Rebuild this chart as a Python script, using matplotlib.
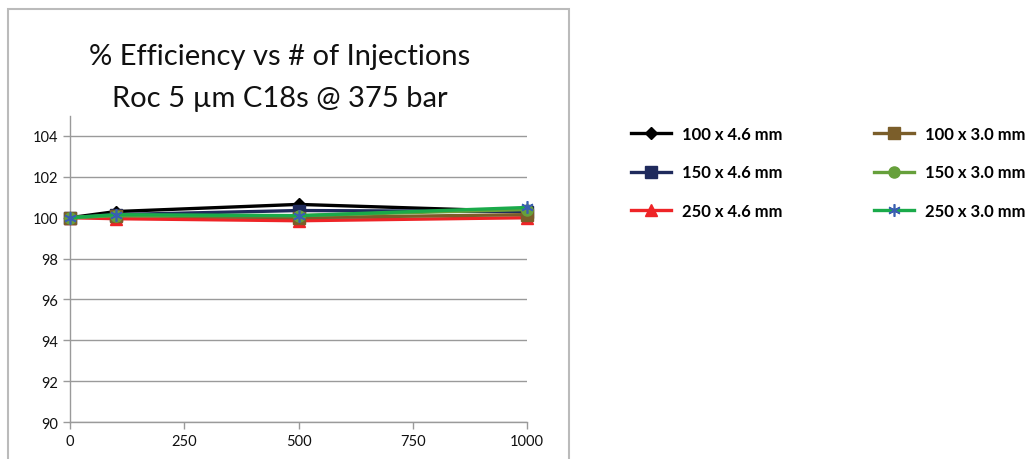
import matplotlib
matplotlib.use('Agg')
import matplotlib.pyplot as plt
import matplotlib.patches as patches

# Data
injections = [0, 100, 500, 1000]
series_names = ['100 x 4.6 mm', '150 x 4.6 mm', '250 x 4.6 mm',
                '100 x 3.0 mm', '150 x 3.0 mm', '250 x 3.0 mm']
eff_100_46 = [100.0, 100.3, 100.65, 100.3]
eff_150_46 = [100.0, 100.15, 100.35, 100.3]
eff_250_46 = [100.0, 99.95, 99.85, 100.0]
eff_100_30 = [100.0, 100.1, 100.0, 100.15]
eff_150_30 = [100.0, 100.1, 100.1, 100.4]
eff_250_30 = [100.0, 100.15, 100.1, 100.5]
y_ticks = [90, 92, 94, 96, 98, 100, 102, 104]
x_ticks = [0, 250, 500, 750, 1000]

# Styles per series: line colour, marker, marker colour, marker size
styles = [
    ('#000000', 'D', '#000000', 6),
    ('#1F2A5C', 's', '#1F2A5C', 8),
    ('#EE2427', '^', '#EE2427', 8),
    ('#7B5E2A', 's', '#7B5E2A', 8),
    ('#66A03B', 'o', '#66A03B', 8),
    ('#1AAA4A', (6, 2, 0), '#3A5FB0', 9),
]
values = [eff_100_46, eff_150_46, eff_250_46, eff_100_30, eff_150_30, eff_250_30]

fig = plt.figure(figsize=(10.27, 4.6), dpi=100)
ax = fig.add_axes([0.0682, 0.0804, 0.445, 0.6663])

grid_col = '#9A9A9A'
for (col, mk, mcol, ms), vals, name in zip(styles, values, series_names):
    ax.plot(injections, vals, color=col, lw=2.4, marker=mk, ms=ms,
            markerfacecolor=mcol, markeredgecolor=mcol,
            mew=1.2 if isinstance(mk, tuple) else 1,
            label=name, clip_on=False, zorder=3)

ax.set_xlim(0, 1000)
ax.set_ylim(90, 105)
ax.set_yticks(y_ticks)
ax.set_xticks(x_ticks)
ax.yaxis.grid(True, color=grid_col, lw=1)
ax.set_axisbelow(True)
for s in ['top', 'right']:
    ax.spines[s].set_visible(False)
for s in ['left', 'bottom']:
    ax.spines[s].set_color(grid_col)
    ax.spines[s].set_linewidth(1)
ax.tick_params(axis='both', direction='out', color=grid_col, length=5, width=1,
               labelsize=10.5, labelcolor='#111111')
for lbl in ax.get_xticklabels() + ax.get_yticklabels():
    lbl.set_family('Lato')

# Title
fig.text(0.272, 0.877, '% Efficiency vs # of Injections', ha='center', va='center',
         fontsize=21, family='Lato', color='#111111')
fig.text(0.272, 0.784, 'Roc 5 µm C18s @ 375 bar', ha='center', va='center',
         fontsize=21, family='Lato', color='#111111')

# Chart border
fig.add_artist(patches.Rectangle((7.5 / 1027, -0.05), 561 / 1027, 1 - 9.5 / 460 + 0.05,
                                 transform=fig.transFigure, fill=False,
                                 edgecolor='#BBBBBB', lw=1.5))

handles, labels = ax.get_legend_handles_labels()
fig.legend(handles, labels, ncol=2, loc='upper left', bbox_to_anchor=(0.5995, 0.756),
           frameon=False, prop={'family': 'Lato', 'weight': 'bold', 'size': 12},
           handlelength=2.4, handletextpad=0.7, columnspacing=5.45, labelspacing=1.33)

plt.savefig('out.png', dpi=100)
